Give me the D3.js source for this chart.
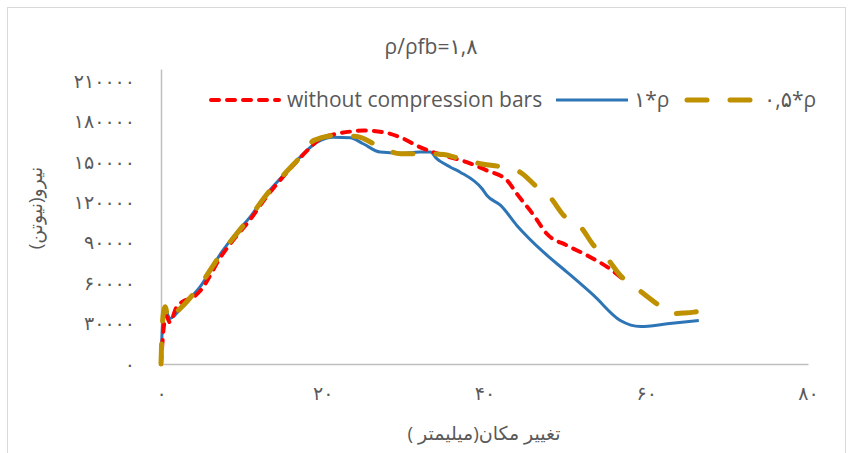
<!DOCTYPE html>
<html>
<head>
<meta charset="utf-8">
<script src="https://cdn.jsdelivr.net/npm/d3@7"></script>
<style>
  body { margin: 0; background: #fff; }
  svg text { fill: #595959; }
</style>
</head>
<body>
<svg id="chart" width="851" height="453"></svg>
<script>
// Chart data (displacement in mm, force in N)
const noBarsX = [0, 0.3, 0.6, 1.1, 1.9, 2.6, 4, 4.8, 7.5, 9.4, 11, 12.9, 15.1, 17.2, 18, 19.7, 21.8, 23.5, 25, 27.5, 30, 32, 34.5, 37.8, 40.3, 42.8, 44, 46.1, 47.7, 50.2, 52.7, 55.2, 57.6];
const noBarsY = [0, 25000, 36000, 31000, 42000, 46000, 49600, 54000, 80500, 95500, 107000, 123000, 139000, 153000, 158000, 167200, 171000, 172600, 173400, 172100, 167200, 161000, 155600, 149900, 143700, 136300, 126400, 110300, 96700, 88000, 80600, 71900, 60800];

const rho1X = [0, 0.1, 0.25, 0.58, 1.1, 2, 2.75, 4.8, 7.5, 9.4, 11, 12.9, 15.1, 17.2, 19.3, 21.3, 23.4, 25, 27.1, 29.6, 32, 33.3, 34.1, 35.8, 37, 39.7, 40.3, 42, 44, 47.3, 50.2, 53.5, 56.8, 59.3, 62.6, 66.5];
const rho1Y = [0, 18000, 33000, 39200, 33800, 38000, 43400, 57000, 83000, 97900, 109000, 125000, 140000, 153600, 164700, 168400, 168000, 163500, 157300, 156500, 157300, 157300, 152400, 146100, 142400, 130100, 125100, 117700, 102900, 83000, 68200, 50900, 32300, 27800, 29800, 32300];

const rho05X = [0, 0.1, 0.3, 0.5, 0.8, 1.05, 1.7, 2.75, 4.8, 7.5, 9.4, 11, 12.9, 15.1, 17.2, 18.9, 21.8, 24.2, 27.5, 29.6, 32.4, 34.9, 37, 39.5, 42.3, 44.4, 46.5, 48.1, 49.8, 51.9, 53.5, 55.2, 56.8, 58.9, 61.3, 63, 64.5, 65.9, 66.7];
const rho05Y = [0, 20000, 38000, 42500, 36000, 32300, 37300, 43400, 58300, 82500, 97000, 109000, 124500, 140000, 153600, 166000, 169700, 168900, 159800, 156100, 156100, 155600, 152400, 148700, 146100, 142400, 131300, 123800, 110300, 101600, 88000, 78100, 65700, 55800, 44700, 37300, 37800, 38500, 39200];

const seriesNames = ['without compression bars', '۱*ρ', '۰,۵*ρ'];

const xTicks = [0, 20, 40, 60, 80];
const xTickLabels = ['۰', '۲۰', '۴۰', '۶۰', '۸۰'];
const yTicks = [0, 30000, 60000, 90000, 120000, 150000, 180000, 210000];
const yTickLabels = ['۰', '۳۰۰۰۰', '۶۰۰۰۰', '۹۰۰۰۰', '۱۲۰۰۰۰', '۱۵۰۰۰۰', '۱۸۰۰۰۰', '۲۱۰۰۰۰'];

const titleText = 'ρ/ρfb=۱,۸';
// RLM marks keep the Persian titles in one right-to-left run
const xTitle = '\u200Fتغییر مکان(میلیمتر )\u200F';
const yTitle = '\u200Fنیرو(نیوتن)\u200F';

// Styles per series
const styles = [
  { color: '#FF0000', width: 4, dash: '8,8', cap: 'round' },
  { color: '#2E75B6', width: 3, dash: null, cap: 'butt' },
  { color: '#BF9000', width: 5, dash: '20,23', cap: 'round' }
];

const svg = d3.select('#chart');
const font = '"Open Sans", "DejaVu Sans", sans-serif';

// Outer frame
svg.append('rect')
  .attr('x', 7.5).attr('y', 7.5)
  .attr('width', 838).attr('height', 460)
  .attr('fill', 'none')
  .attr('stroke', '#D9D9D9');

const x = d3.scaleLinear().domain([0, 80]).range([161, 808]);
const y = d3.scaleLinear().domain([0, 219000]).range([364, 69]);

// Axes
const xAxis = svg.append('g')
  .attr('transform', `translate(0,${y(0)})`)
  .call(d3.axisBottom(x).tickValues(xTicks).tickSize(0).tickPadding(23)
    .tickFormat((d, i) => xTickLabels[i]));

const yAxis = svg.append('g')
  .attr('transform', `translate(${x(0)},0)`)
  .call(d3.axisLeft(y).tickValues(yTicks).tickSize(0).tickPadding(26)
    .tickFormat((d, i) => yTickLabels[i]));

[xAxis, yAxis].forEach(a => {
  a.select('.domain').attr('stroke', '#BFBFBF').attr('stroke-width', 1.5);
  a.selectAll('text')
    .attr('font-family', font)
    .attr('font-size', 19)
    .attr('fill', '#595959');
});

// Lines
const line = d3.line()
  .x(d => x(d[0]))
  .y(d => y(d[1]))
  .curve(d3.curveMonotoneX);

const series = [
  d3.zip(noBarsX, noBarsY),
  d3.zip(rho1X, rho1Y),
  d3.zip(rho05X, rho05Y)
];

// blue first, then red, gold on top
[1, 0, 2].forEach(i => {
  svg.append('path')
    .datum(series[i])
    .attr('d', line)
    .attr('fill', 'none')
    .attr('stroke', styles[i].color)
    .attr('stroke-width', styles[i].width)
    .attr('stroke-dasharray', styles[i].dash)
    .attr('stroke-linecap', styles[i].cap)
    .attr('stroke-linejoin', 'round');
});

// Title
svg.append('text')
  .attr('x', 431).attr('y', 54)
  .attr('text-anchor', 'middle')
  .attr('font-family', font)
  .attr('font-size', 21)
  .text(titleText);

// Legend
const legendY = 100;
const legendPos = [
  { x1: 211, x2: 279, tx: 287 },
  { x1: 556, x2: 628, tx: 634 },
  { x1: 687, x2: 751, tx: 764 }
];
legendPos.forEach((p, i) => {
  svg.append('line')
    .attr('x1', p.x1).attr('x2', p.x2)
    .attr('y1', legendY).attr('y2', legendY)
    .attr('stroke', styles[i].color)
    .attr('stroke-width', styles[i].width)
    .attr('stroke-dasharray', styles[i].dash)
    .attr('stroke-linecap', styles[i].cap);
  svg.append('text')
    .attr('x', p.tx).attr('y', legendY + 7)
    .attr('font-family', font)
    .attr('font-size', 21)
    .text(seriesNames[i]);
});

// Axis titles
svg.append('text')
  .attr('x', 484).attr('y', 440)
  .attr('text-anchor', 'middle')
  .attr('font-family', font)
  .attr('font-size', 19)
  .text(xTitle);

svg.append('text')
  .attr('transform', 'translate(42,208) rotate(-90)')
  .attr('text-anchor', 'middle')
  .attr('font-family', font)
  .attr('font-size', 19)
  .text(yTitle);
</script>
</body>
</html>
